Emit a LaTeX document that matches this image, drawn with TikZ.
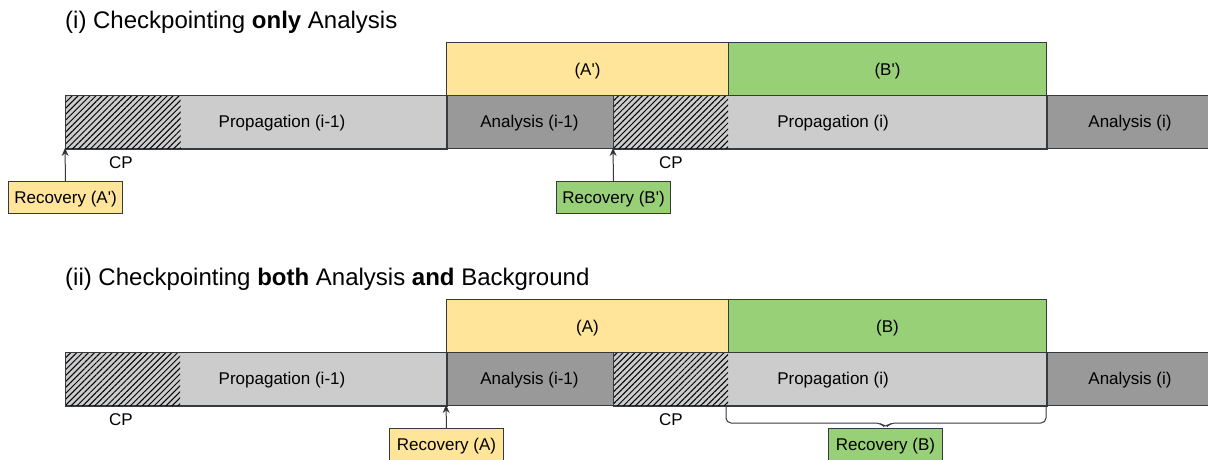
\documentclass[tikz,border=0pt]{standalone}
\usepackage{fontspec}
\setmainfont{Liberation Sans}
\usetikzlibrary{arrows.meta,patterns.meta}

\definecolor{cellline}{HTML}{36393D}
\definecolor{lightcell}{HTML}{CCCCCC}
\definecolor{darkcell}{HTML}{999999}
\definecolor{yellowbox}{HTML}{FFE599}
\definecolor{greenbox}{HTML}{97D077}

\newcommand{\q}{\textquotesingle}

\tikzset{
  x=1pt, y=-1pt,
  txt/.style={font=\fontsize{17}{20}\selectfont, text height=12.2pt, text depth=0pt},
  cell/.style={txt, draw=cellline, line width=1pt, anchor=north west, inner sep=0pt,
    minimum height=53pt},
  hatchcell/.style={anchor=north west, inner sep=0pt, minimum height=53pt,
    pattern={Lines[angle=45,distance=4.2pt,line width=1pt]}, pattern color=black},
  outline/.style={draw=cellline, line width=1pt},
  lbl/.style={txt, inner sep=0pt},
  heading/.style={inner sep=0pt, anchor=base west, font=\fontsize{24}{28}\selectfont},
  recov/.style={txt, draw=cellline, line width=1pt, anchor=north west, inner sep=0pt,
    minimum width=114pt, minimum height=32pt},
  uparrow/.style={draw=cellline, line width=1pt, -{Stealth[length=8pt,width=7pt,fill=black]}},
  brace/.style={draw=cellline, line width=1pt, rounded corners=5pt},
}

\begin{document}
\begin{tikzpicture}
\useasboundingbox (0,0) rectangle (1208,459);
\clip (0,0) rectangle (1208,459);

% ---------- (i) checkpointing only the analysis ----------
\node[heading] (t1) at (65,28) {(i) Checkpointing \textbf{only} Analysis};

\node[cell, fill=yellowbox, minimum width=282pt] (a1) at (446,42) {(A\q)};
\node[cell, fill=greenbox, minimum width=318pt] (b1) at (728,42) {(B\q)};

\node[cell, fill=lightcell, minimum width=381pt] (p1prev) at (65,95) {};
\node[cell, fill=darkcell, minimum width=167pt] (an1prev) at (446,95) {};
\node[cell, fill=lightcell, minimum width=433pt] (p1) at (613,95) {};
\node[cell, fill=darkcell, minimum width=180pt] (an1) at (1046,95) {};
\node[hatchcell, minimum width=115pt] (h1a) at (65,95) {};
\node[hatchcell, minimum width=115pt] (h1b) at (613,95) {};
\draw[outline] (p1prev.north west) rectangle (p1prev.south east);
\draw[outline] (p1.north west) rectangle (p1.south east);

\node[lbl] (l1a) at (282,121.5) {Propagation (i-1)};
\node[lbl] (l1b) at (529.5,121.5) {Analysis (i-1)};
\node[lbl] (l1c) at (833,121.5) {Propagation (i)};
\node[lbl] (l1d) at (1130,121.5) {Analysis (i)};

\node[lbl] (cp1a) at (121,162.5) {CP};
\node[lbl] (cp1b) at (671,162.5) {CP};

\node[recov, fill=yellowbox] (r1a) at (8,181) {Recovery (A\q)};
\node[recov, fill=greenbox] (r1b) at (556,181) {Recovery (B\q)};
\coordinate (e1a) at (65,148);
\coordinate (e1b) at (613,148);
\draw[uparrow] (r1a.north) -- (e1a);
\draw[uparrow] (r1b.north) -- (e1b);

% ---------- (ii) checkpointing analysis and background ----------
\node[heading] (t2) at (65,285) {(ii) Checkpointing \textbf{both} Analysis \textbf{and} Background};

\node[cell, fill=yellowbox, minimum width=282pt] (a2) at (446,299) {(A)};
\node[cell, fill=greenbox, minimum width=318pt] (b2) at (728,299) {(B)};

\node[cell, fill=lightcell, minimum width=381pt] (p2prev) at (65,352) {};
\node[cell, fill=darkcell, minimum width=167pt] (an2prev) at (446,352) {};
\node[cell, fill=lightcell, minimum width=433pt] (p2) at (613,352) {};
\node[cell, fill=darkcell, minimum width=180pt] (an2) at (1046,352) {};
\node[hatchcell, minimum width=115pt] (h2a) at (65,352) {};
\node[hatchcell, minimum width=115pt] (h2b) at (613,352) {};
\draw[outline] (p2prev.north west) rectangle (p2prev.south east);
\draw[outline] (p2.north west) rectangle (p2.south east);

\node[lbl] (l2a) at (282,378.5) {Propagation (i-1)};
\node[lbl] (l2b) at (529.5,378.5) {Analysis (i-1)};
\node[lbl] (l2c) at (833,378.5) {Propagation (i)};
\node[lbl] (l2d) at (1130,378.5) {Analysis (i)};

\node[lbl] (cp2a) at (121,419.5) {CP};
\node[lbl] (cp2b) at (671,419.5) {CP};

\node[recov, fill=yellowbox] (r2a) at (389,428) {Recovery (A)};
\node[recov, fill=greenbox] (r2b) at (828,428) {Recovery (B)};
\coordinate (e2a) at (446,405);
\draw[uparrow] (r2a.north) -- (e2a);

% brace spanning the propagation after the checkpoint
\coordinate (bl) at (726,405);
\coordinate (br) at (1046,405);
\coordinate (bt) at (r2b.north);
\draw[brace] (bl) -- (bl |- 0,423) -- ([xshift=-5pt]bt |- 0,423)
  -- (bt) -- ([xshift=5pt]bt |- 0,423) -- (br |- 0,423) -- (br);
\end{tikzpicture}
\end{document}
